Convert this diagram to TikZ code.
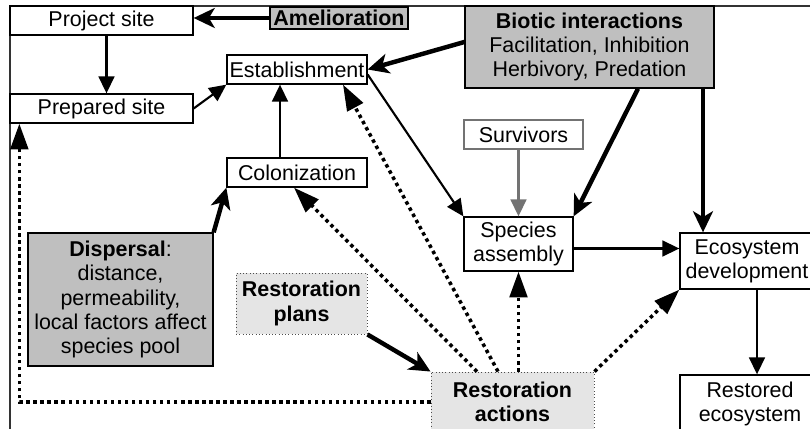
\documentclass[tikz,border=0pt]{standalone}
\usepackage{fontspec}
\setmainfont{Liberation Sans}
\usetikzlibrary{arrows.meta,calc}

\tikzset{
  lbl/.style={font=\fontsize{18.3}{20.6}\selectfont,align=center,inner sep=1pt},
  sized/.style 2 args={minimum width=#1*0.03cm,minimum height=#2*0.03cm},
  box/.style={lbl,draw,line width=1.1pt,fill=white},
  shaded/.style={box,fill=black!25},
  planned/.style={lbl,font=\fontsize{18.3}{20.6}\selectfont\bfseries,draw=black!70,dotted,line width=0.8pt,fill=black!10},
  link/.style={line width=1.8pt,-{Triangle[length=14.5pt,width=13.5pt]}},
  strong/.style={line width=3.8pt,-{Stealth[length=18pt,width=17pt,inset=5pt]}},
  plan/.style={line width=3pt,dash pattern=on 3pt off 3pt,-{Triangle[length=22pt,width=15pt]}},
}

\begin{document}
\begin{tikzpicture}[x=0.03cm,y=-0.03cm]
  \useasboundingbox (0,0) rectangle (810,429);
  \clip (0,0) rectangle (810,429);

  % frame
  \draw[line width=1.1pt,black!80] (10,430) -- (10,6) -- (811,6);

  % boxes
  \node[box,sized={183}{29}] (project) at (101.5,20.5) {Project site};
  \node[shaded,sized={138}{22},inner sep=0pt] (amel) at (339,18) {\textbf{Amelioration}};
  \node[box,sized={183}{29}] (prepared) at (101.5,108.5) {Prepared site};
  \node[box,sized={140}{29}] (estab) at (297,69.5) {Establishment};
  \node[box,sized={140}{29}] (colon) at (297,172.5) {Colonization};
  \node[shaded,sized={249}{82}] (biotic) at (589.5,47)
    {\textbf{Biotic interactions}\\Facilitation, Inhibition\\Herbivory, Predation};
  \node[box,draw=black!55,sized={119}{29}] (surv) at (523.5,134.5) {Survivors};
  \node[box,sized={109}{54}] (species) at (518.5,244) {Species\\assembly};
  \node[box,sized={134}{56}] (eco) at (747,261) {Ecosystem\\development};
  \node[box,sized={140}{58}] (restored) at (750,404) {Restored\\ecosystem};
  \node[shaded,sized={185}{133}] (dispersal) at (120.5,299.5)
    {\textbf{Dispersal}:\\distance,\\permeability,\\local factors affect\\species pool};
  \node[planned,sized={131}{61}] (plans) at (301.5,303.5) {Restoration\\plans};
  \node[planned,sized={163}{60}] (actions) at (512.5,402) {Restoration\\actions};

  % solid links
  \draw[strong] (amel.west) -- (project.east |- amel.west);
  \draw[link] ($(project.south)+(5,0)$) -- ($(prepared.north)+(5,0)$);
  \draw[link] (prepared.east) -- (estab.south west);
  \draw[link] ($(colon.north)+(-17,0)$) -- ($(estab.south)+(-17,0)$);
  \draw[strong] ($(biotic.west)+(0,-5)$) -- (estab.east);
  \draw[link] ($(estab.east)+(0,5)$) -- (species.north west);
  \draw[strong] ($(biotic.south)+(48.5,0)$) -- (species.north east);
  \coordinate (b3) at ($(biotic.south)+(113.5,0)$);
  \draw[strong] (b3) -- (b3 |- eco.north);
  \draw[link,black!55] (surv.south -| species.north) -- (species.north);
  \coordinate (s1) at ($(species.east)+(0,4.5)$);
  \draw[link] (s1) -- (eco.west |- s1);
  \coordinate (e1) at ($(eco.south)+(10,0)$);
  \draw[link] (e1) -- (e1 |- restored.north);
  \draw[strong] (dispersal.north east) -- (colon.south west);
  \draw[strong] (plans.south east) -- (actions.north west);

  % restoration actions
  \draw[plan] (actions.west) -| ($(prepared.south west)+(10,0)$);
  \draw[plan] ($(actions.north)+(-35.5,0)$) -- ($(colon.south)+(-3,0)$);
  \draw[plan] ($(actions.north)+(-14.5,0)$) -- ($(estab.south)+(46,0)$);
  \draw[plan] (species.south |- actions.north) -- (species.south);
  \draw[plan] (actions.north east) -- (eco.south west);
\end{tikzpicture}
\end{document}
